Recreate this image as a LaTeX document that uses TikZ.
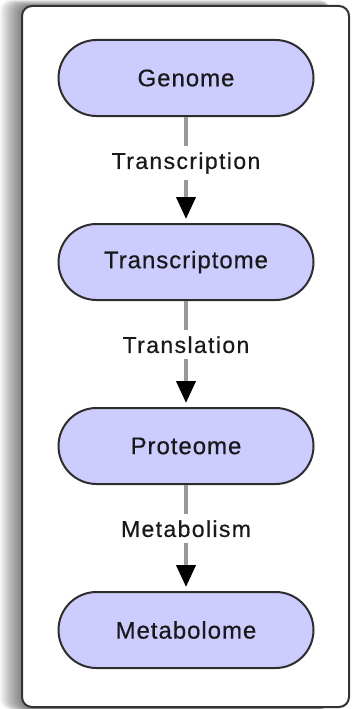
\documentclass[tikz,border=0pt]{standalone}
\usepackage{fontspec}
\setmainfont{Liberation Sans}
\usetikzlibrary{shapes.misc,arrows.meta}
\definecolor{omefill}{HTML}{CCCCFF}
\definecolor{omeline}{HTML}{2E2E2E}
\definecolor{flowgray}{HTML}{999999}
\definecolor{framegray}{HTML}{333333}
\tikzset{
  ome/.style={rounded rectangle, draw=omeline, line width=2pt, fill=omefill,
    minimum width=255pt, minimum height=76pt, inner sep=0pt, text=black!90,
    font=\fontsize{24}{28}\selectfont\addfontfeature{LetterSpace=4,FakeBold=0.5}},
  flow/.style={draw=flowgray, line width=4pt,
    -{Triangle[width=19pt,length=22pt,color=black]}, shorten >=4pt},
  flowlabel/.style={fill=white, inner sep=6pt, anchor=base, text=black!90,
    font=\fontsize{23}{27}\selectfont\addfontfeature{LetterSpace=6,FakeBold=0.5}},
  shadowlayer/.style={fill=black, fill opacity=0.05, draw=none, rounded corners=10pt}
}
\begin{document}
\begin{tikzpicture}[x=1pt,y=1pt]
  \useasboundingbox (0,0) rectangle (352,-709);
  % soft shadow to the left of the frame
  \foreach \k in {1,...,12}{
    \path[shadowlayer] (22-1.8*\k,-6+0.5*\k) rectangle (330,-709);
  }
  % frame
  \draw[framegray, line width=2pt, fill=white, rounded corners=10pt]
    (22,-6) rectangle (349,-707);

  % omics levels
  \node[ome] (g) at (186,-78)  {Genome};
  \node[ome] (t) at (186,-262) {Transcriptome};
  \node[ome] (p) at (186,-446) {Proteome};
  \node[ome] (m) at (186,-630) {Metabolome};

  % processes between levels
  \draw[flow] (g.south) -- node[flowlabel, pos=0.49] {Transcription} (t.north);
  \draw[flow] (t.south) -- node[flowlabel, pos=0.49] {Translation} (p.north);
  \draw[flow] (p.south) -- node[flowlabel, pos=0.49] {Metabolism} (m.north);
\end{tikzpicture}
\end{document}
